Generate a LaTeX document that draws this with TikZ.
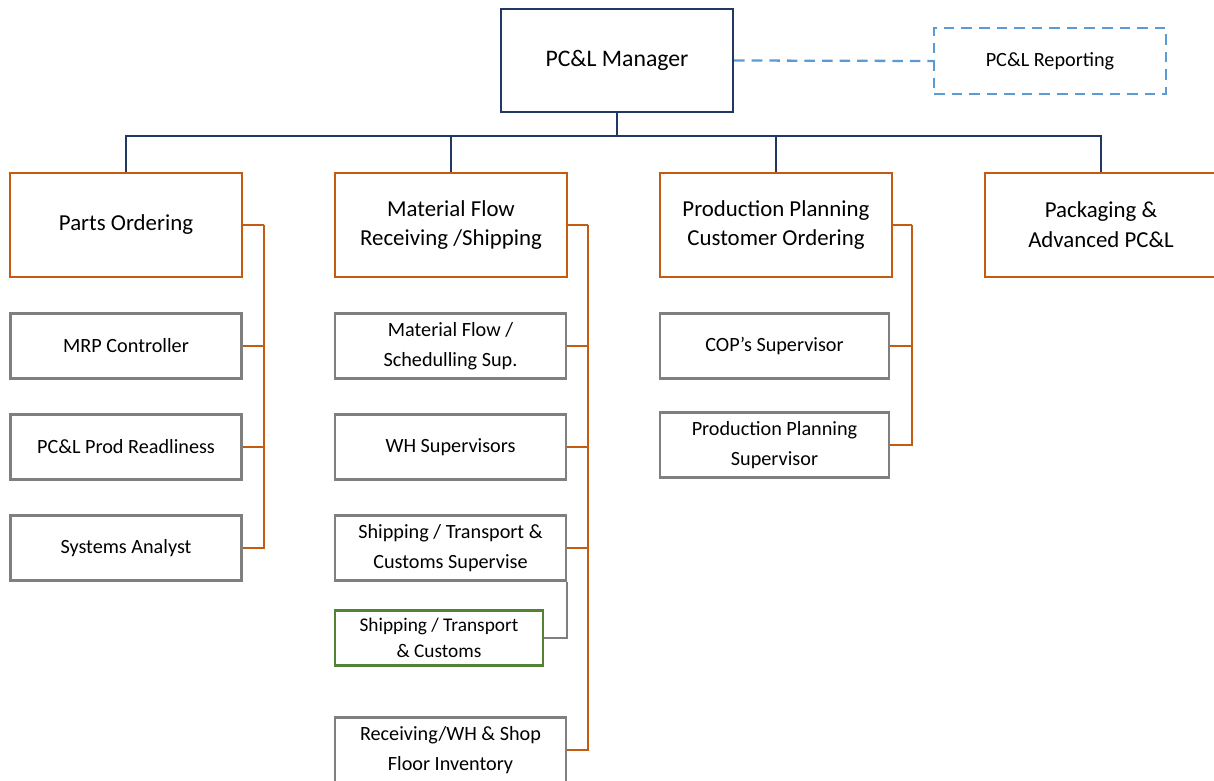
\documentclass[tikz,border=0pt]{standalone}
\usepackage{fontspec}
\setmainfont{Carlito}
\usetikzlibrary{positioning, calc}
\definecolor{mgrblue}{RGB}{31,56,100}
\definecolor{deptorange}{RGB}{197,90,17}
\definecolor{teamgray}{RGB}{127,127,127}
\definecolor{subgreen}{RGB}{84,130,53}
\definecolor{reportblue}{RGB}{91,155,213}

\begin{document}
\begin{tikzpicture}[
    mgrbox/.style={draw=mgrblue, line width=1.3pt, minimum width=4.64cm,
                   minimum height=2.06cm, align=center, font=\fontsize{13.5}{17}\selectfont},
    reportbox/.style={draw=reportblue, dash pattern=on 6pt off 4pt, line width=1.3pt,
                   minimum width=4.64cm, minimum height=1.32cm, align=center,
                   font=\fontsize{11.5}{17}\selectfont},
    deptbox/.style={draw=deptorange, line width=1.3pt, minimum width=4.64cm,
                   minimum height=2.08cm, align=center, font=\fontsize{13}{17}\selectfont},
    teambox/.style={draw=teamgray, line width=1.3pt, minimum width=4.62cm,
                   minimum height=1.30cm, align=center, font=\fontsize{11.5}{17}\selectfont},
    subbox/.style={draw=subgreen, line width=1.3pt, minimum width=4.16cm,
                   minimum height=1.10cm, align=center, font=\fontsize{11}{14.5}\selectfont},
    mgrline/.style={draw=mgrblue, line width=1.3pt},
    deptline/.style={draw=deptorange, line width=1.3pt},
  ]
  \useasboundingbox (0,0) rectangle (24.28,-15.62);

  % top
  \node[mgrbox] (mgr) at (12.34,-1.21) {PC\&L Manager};
  \node[reportbox] (report) at (21.0,-1.22) {PC\&L Reporting};
  \draw[reportblue, dash pattern=on 6pt off 4pt, line width=1.3pt] (mgr.east) -- (report.west);

  % departments
  \node[deptbox] (parts) at (2.52,-4.5) {Parts Ordering};
  \node[deptbox] (mflow) at (9.02,-4.5) {Material Flow\\Receiving /Shipping};
  \node[deptbox] (pplan) at (15.52,-4.5) {Production Planning\\Customer Ordering};
  \node[deptbox] (pack) at (22.02,-4.5) {Packaging \&\\Advanced PC\&L};
  \foreach \n in {parts, mflow, pplan, pack}
    \draw[mgrline] (mgr.south) -- ++(0,-0.46) -| (\n.north);

  % parts ordering team
  \node[teambox] (mrp) at (2.52,-6.92) {MRP Controller};
  \node[teambox] (ready) at (2.52,-8.94) {PC\&L Prod Readliness};
  \node[teambox] (analyst) at (2.52,-10.96) {Systems Analyst};

  % material flow team
  \node[teambox] (sched) at (9.01,-6.92) {Material Flow /\\Schedulling Sup.};
  \node[teambox] (whsup) at (9.01,-8.94) {WH Supervisors};
  \node[teambox] (shipsup) at (9.01,-10.96) {Shipping / Transport \&\\Customs Supervise};
  \node[subbox] (ship) at (8.78,-12.76) {Shipping / Transport\\\& Customs};
  \node[teambox] (recv) at (9.01,-15.0) {Receiving/WH \& Shop\\Floor Inventory};

  % production planning team
  \node[teambox, minimum width=4.58cm] (cop) at (15.49,-6.92) {COP's Supervisor};
  \node[teambox, minimum width=4.58cm] (ppsup) at (15.49,-8.90) {Production Planning\\Supervisor};

  % spines
  \coordinate (partsbus) at ($(parts.east)+(0.42,0)$);
  \coordinate (mflowbus) at ($(mflow.east)+(0.40,0)$);
  \coordinate (pplanbus) at ($(pplan.east)+(0.38,0)$);
  \draw[deptline] (parts.east) -- (partsbus);
  \draw[deptline] (mflow.east) -- (mflowbus);
  \draw[deptline] (pplan.east) -- (pplanbus);
  \foreach \c in {mrp, ready, analyst}
    \draw[deptline] (partsbus) |- (\c.east);
  \foreach \c in {sched, whsup, shipsup, recv}
    \draw[deptline] (mflowbus) |- (\c.east);
  \foreach \c in {cop, ppsup}
    \draw[deptline] (pplanbus) |- (\c.east);
  \draw[teamgray, line width=1.3pt] (shipsup.south east) |- (ship.east);
\end{tikzpicture}
\end{document}
